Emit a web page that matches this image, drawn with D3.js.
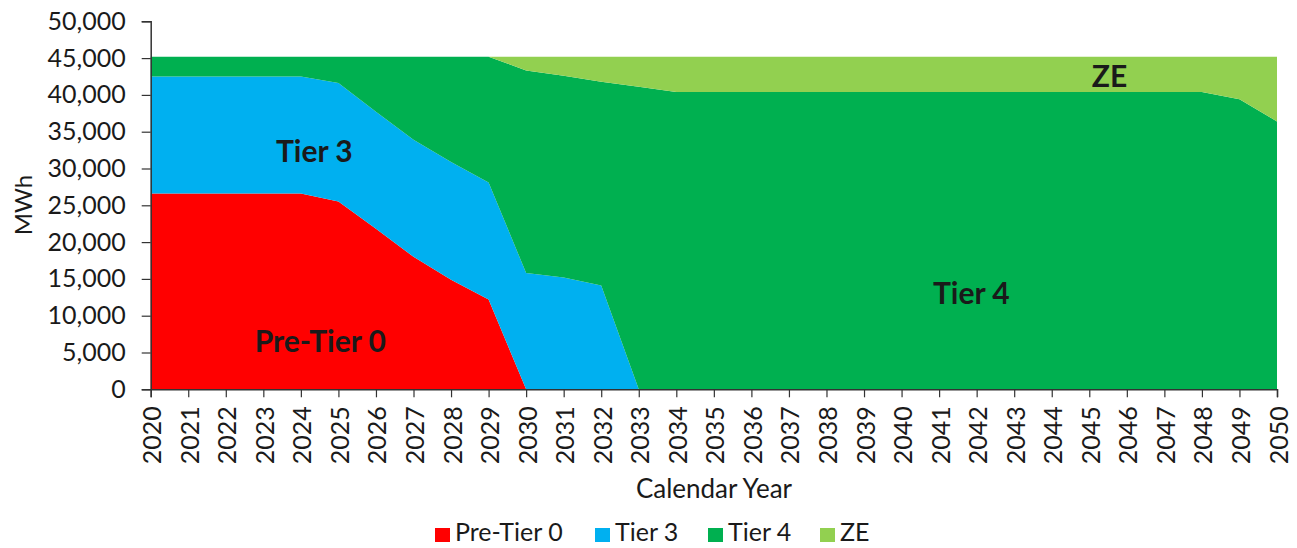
<!DOCTYPE html>
<html>
<head>
<meta charset="utf-8">
<script src="https://cdn.jsdelivr.net/npm/d3@7"></script>
<style>
  body { margin: 0; background: #fff; }
  svg text { font-family: Lato, "Noto Sans", sans-serif; fill: #1a1a1a; }
</style>
</head>
<body>
<svg id="my_svg"></svg>
<script>
const width = 1297;
const height = 548;

// data (MWh)
const years = d3.range(2020, 2051);
const preTier0 = [26600, 26600, 26600, 26600, 26600, 25500, 21800, 18000, 14900, 12200,
  0, 0, 0, 0, 0, 0, 0, 0, 0, 0, 0, 0, 0, 0, 0, 0, 0, 0, 0, 0, 0];
const tier3 = [15900, 15900, 15900, 15900, 15900, 16100, 15900, 15900, 16000, 15900,
  15800, 15200, 14100, 0, 0, 0, 0, 0, 0, 0, 0, 0, 0, 0, 0, 0, 0, 0, 0, 0, 0];
const tier4 = [2700, 2700, 2700, 2700, 2700, 3600, 7500, 11300, 14300, 17100,
  27500, 27400, 27700, 41100, 40400, 40400, 40400, 40400, 40400, 40400, 40400, 40400,
  40400, 40400, 40400, 40400, 40400, 40400, 40400, 39400, 36400];
const ze = [0, 0, 0, 0, 0, 0, 0, 0, 0, 0,
  1900, 2600, 3400, 4100, 4800, 4800, 4800, 4800, 4800, 4800, 4800, 4800,
  4800, 4800, 4800, 4800, 4800, 4800, 4800, 5800, 8800];
const seriesNames = ['Pre-Tier 0', 'Tier 3', 'Tier 4', 'ZE'];
const seriesColors = ['#FF0000', '#00B0F0', '#00B050', '#92D050'];
const yTicks = d3.range(0, 50001, 5000);

const svg = d3.select('#my_svg')
  .attr('width', width)
  .attr('height', height);

const rows = years.map((y, i) => ({
  year: y,
  'Pre-Tier 0': preTier0[i],
  'Tier 3': tier3[i],
  'Tier 4': tier4[i],
  'ZE': ze[i]
}));

const x = d3.scaleLinear().domain([2020, 2050]).range([150.7, 1277]);
const y = d3.scaleLinear().domain([0, 50000]).range([389.3, 21.3]);

const stacked = d3.stack().keys(seriesNames)(rows);

const area = d3.area()
  .x(d => x(d.data.year))
  .y0(d => y(d[0]))
  .y1(d => y(d[1]));

svg.append('g')
  .selectAll('path')
  .data(stacked)
  .enter()
  .append('path')
  .attr('d', area)
  .attr('fill', (d, i) => seriesColors[i]);

// y axis
const yAxis = d3.axisLeft(y)
  .tickValues(yTicks)
  .tickSize(9)
  .tickPadding(16)
  .tickFormat(d3.format(','));

const yg = svg.append('g')
  .attr('transform', 'translate(150.7,0)')
  .call(yAxis);
yg.select('.domain').attr('stroke', '#333').attr('stroke-width', 1.5);
yg.selectAll('.tick line').attr('stroke', '#333').attr('stroke-width', 1.2);
yg.selectAll('.tick text').style('font-size', '25px').attr('fill', '#1a1a1a');

// x axis
const xAxis = d3.axisBottom(x)
  .tickValues(years)
  .tickSize(8)
  .tickFormat(d3.format('d'));

const xg = svg.append('g')
  .attr('transform', 'translate(0,389.3)')
  .call(xAxis);
xg.select('.domain').attr('stroke', '#333').attr('stroke-width', 1.5);
xg.selectAll('.tick line').attr('stroke', '#333').attr('stroke-width', 1.2);
xg.selectAll('.tick text')
  .style('font-size', '25px')
  .attr('fill', '#1a1a1a')
  .attr('text-anchor', 'end')
  .attr('dy', null)
  .attr('dominant-baseline', 'central')
  .attr('transform', 'translate(0,17) rotate(-90)')
  .attr('y', 0)
  .attr('x', 0);

// axis titles
svg.append('text')
  .attr('x', 714)
  .attr('y', 498)
  .attr('text-anchor', 'middle')
  .style('font-size', '26px')
  .text('Calendar Year');

svg.append('text')
  .attr('transform', 'translate(32,205) rotate(-90)')
  .attr('text-anchor', 'middle')
  .style('font-size', '24px')
  .text('MWh');

// labels inside the areas
const labels = [
  { t: 'Tier 3', year: 2024.36, v: 32400 },
  { t: 'Pre-Tier 0', year: 2024.52, v: 6600 },
  { t: 'Tier 4', year: 2041.86, v: 13100 },
  { t: 'ZE', year: 2045.54, v: 42600 }
];
svg.append('g')
  .selectAll('text')
  .data(labels)
  .enter()
  .append('text')
  .attr('x', d => x(d.year))
  .attr('y', d => y(d.v))
  .attr('text-anchor', 'middle')
  .attr('dy', '0.36em')
  .style('font-size', '30px')
  .style('font-weight', 'bold')
  .attr('fill', '#000')
  .text(d => d.t);

// legend
const legendX = [435, 595, 708, 820];
const legend = svg.append('g')
  .selectAll('g')
  .data(seriesNames)
  .enter()
  .append('g')
  .attr('transform', (d, i) => `translate(${legendX[i]},541)`);
legend.append('rect')
  .attr('x', 0)
  .attr('y', -13)
  .attr('width', 15)
  .attr('height', 14)
  .attr('fill', (d, i) => seriesColors[i]);
legend.append('text')
  .attr('x', 20)
  .attr('y', 0)
  .style('font-size', '25px')
  .text(d => d);
</script>
</body>
</html>
